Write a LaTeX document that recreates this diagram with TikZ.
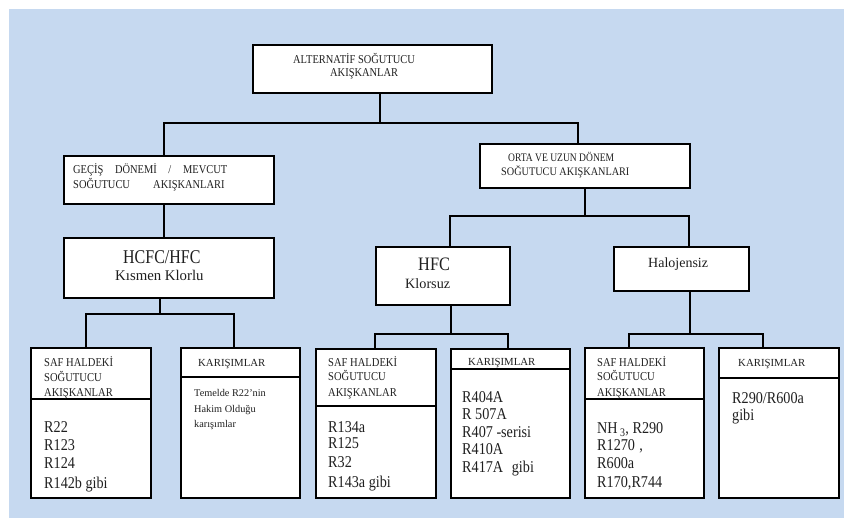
\documentclass[tikz,border=0pt]{standalone}
\usepackage{fontspec}
\usepackage{graphicx}
\setmainfont{Liberation Serif}
\definecolor{bg}{RGB}{198,217,240}
\tikzset{
  box/.style={draw=black, fill=white, line width=1.6pt, inner sep=0pt, anchor=north west},
  conn/.style={draw=black, line width=1.6pt},
  txt/.style={anchor=base west, inner sep=0pt, text=black!88},
}
\newcommand{\bx}[5]{\node[box, minimum width=#4pt, minimum height=#5pt] (#1) at (#2,#3) {};}
% optional arg: horizontal squeeze
\newcommand{\tx}[6][0.86]{\node[txt, font=\fontsize{#5}{#5}\selectfont] (#2) at (#3,{#4+0.33*#5}) {\scalebox{#1}[1]{#6}};}
\begin{document}
\begin{tikzpicture}[x=1pt,y=-1pt]
\useasboundingbox (0,0) rectangle (844,518);
\fill[bg] (9,9) rectangle (844,518);

% boxes
\bx{root}{252}{44}{239}{48}
\bx{gec}{63}{155}{210}{48}
\bx{orta}{479}{143}{210}{44}
\bx{hcfc}{63}{237}{210}{60}
\bx{hfc}{375}{246}{134}{58}
\bx{halo}{613}{246}{135}{44}
\bx{saf1}{30}{347}{120}{150}
\bx{kar1}{180}{347}{119}{150}
\bx{saf2}{315}{348}{120}{149}
\bx{kar2}{450}{348}{119}{149}
\bx{saf3}{584}{347}{119}{150}
\bx{kar3}{718}{347}{120}{150}

% dividers
\draw[conn] ([yshift=-52pt]saf1.north west) -- ([yshift=-52pt]saf1.north east);
\draw[conn] ([yshift=-30pt]kar1.north west) -- ([yshift=-30pt]kar1.north east);
\draw[conn] ([yshift=-58pt]saf2.north west) -- ([yshift=-58pt]saf2.north east);
\draw[conn] ([yshift=-21pt]kar2.north west) -- ([yshift=-21pt]kar2.north east);
\draw[conn] ([yshift=-52pt]saf3.north west) -- ([yshift=-52pt]saf3.north east);
\draw[conn] ([yshift=-31pt]kar3.north west) -- ([yshift=-31pt]kar3.north east);

% connector coordinates
\coordinate (p0) at (380,0); \coordinate (p1) at (164,0); \coordinate (p2) at (578,0); \coordinate (yb1) at (0,123);
\coordinate (q0) at (160,0); \coordinate (q1) at (86,0);  \coordinate (q2) at (234,0); \coordinate (yb2) at (0,314);
\coordinate (r0) at (585,0); \coordinate (r1) at (450,0); \coordinate (r2) at (689,0); \coordinate (yb3) at (0,216);
\coordinate (s0) at (451,0); \coordinate (s1) at (375,0); \coordinate (s2) at (508,0); \coordinate (yb4) at (0,334);
\coordinate (u0) at (690,0); \coordinate (u1) at (629,0); \coordinate (u2) at (763,0);

\draw[conn] (root.south -| p0) -- (p0 |- yb1);
\draw[conn] (gec.north -| p1) |- (p2 |- yb1) -- (orta.north -| p2);
\draw[conn] (gec.south -| p1) -- (hcfc.north -| p1);

\draw[conn] (hcfc.south -| q0) -- (q0 |- yb2);
\draw[conn] (saf1.north -| q1) |- (q2 |- yb2) -- (kar1.north -| q2);

\draw[conn] (orta.south -| r0) -- (r0 |- yb3);
\draw[conn] (hfc.north -| r1) |- (r2 |- yb3) -- (halo.north -| r2);

\draw[conn] (hfc.south -| s0) -- (s0 |- yb4);
\draw[conn] (saf2.north -| s1) |- (s2 |- yb4) -- (kar2.north -| s2);

\draw[conn] (halo.south -| u0) -- (u0 |- yb4);
\draw[conn] (saf3.north -| u1) |- (u2 |- yb4) -- (kar3.north -| u2);

% texts
\tx[0.87]{t1}{293}{60}{12}{ALTERNATİF SOĞUTUCU}
\tx[0.87]{t2}{330}{73}{12}{AKIŞKANLAR}

\tx[0.87]{t3}{73}{170}{12}{\makebox[177pt][s]{GEÇİŞ DÖNEMİ / MEVCUT}}
\tx[0.87]{t4}{73}{185}{12}{\makebox[174pt][s]{SOĞUTUCU AKIŞKANLARI}}

\tx[0.83]{t5}{508}{158}{11.5}{ORTA VE UZUN DÖNEM}
\tx[0.89]{t6}{501}{172}{11.5}{SOĞUTUCU AKIŞKANLARI}

\tx[0.82]{t7}{123}{257}{19.5}{HCFC/HFC}
\tx[1]{t8}{115}{276}{14.8}{Kısmen Klorlu}

\tx[0.86]{t9}{418}{264}{19}{HFC}
\tx[1]{t10}{405}{284}{14.2}{Klorsuz}

\tx[1]{t11}{648}{263}{14}{Halojensiz}

% bottom left SAF
\tx[0.88]{t12}{44}{363}{12}{SAF HALDEKİ}
\tx[0.88]{t13}{44}{378}{12}{SOĞUTUCU}
\tx[0.88]{t14}{44}{393}{12}{AKIŞKANLAR}
\tx{t15}{44}{427}{16.5}{R22}
\tx{t16}{44}{445}{16.5}{R123}
\tx{t17}{44}{463}{16.5}{R124}
\tx{t18}{44}{483}{16.5}{R142b gibi}

% bottom left KAR
\tx[1]{t19}{198}{363}{10.8}{KARIŞIMLAR}
\tx[1]{t20}{194}{393}{10.3}{Temelde R22'nin}
\tx[1]{t21}{194}{409}{10.3}{Hakim Olduğu}
\tx[1]{t22}{194}{424}{10.3}{karışımlar}

% middle SAF
\tx[0.88]{t23}{328}{363}{12}{SAF HALDEKİ}
\tx[0.88]{t24}{328}{377}{12}{SOĞUTUCU}
\tx[0.88]{t25}{328}{393}{12}{AKIŞKANLAR}
\tx{t26}{328}{427}{16.5}{R134a}
\tx{t27}{328}{443}{16.5}{R125}
\tx{t28}{328}{462}{16.5}{R32}
\tx{t29}{328}{482}{16.5}{R143a gibi}

% middle KAR
\tx[1]{t30}{468}{362}{10.8}{KARIŞIMLAR}
\tx{t31}{462}{397}{16.5}{R404A}
\tx{t32}{462}{414}{16.5}{R 507A}
\tx{t33}{462}{432}{16.5}{R407 -serisi}
\tx{t34}{462}{449}{16.5}{R410A}
\tx{t35}{462}{467}{16.5}{R417A\hspace{6pt} gibi}

% right SAF
\tx[0.88]{t36}{597}{363}{12}{SAF HALDEKİ}
\tx[0.88]{t37}{597}{377}{12}{SOĞUTUCU}
\tx[0.88]{t38}{597}{393}{12}{AKIŞKANLAR}
\tx{t39}{597}{428}{16.5}{NH\,\textsubscript{3}, R290}
\tx{t40}{597}{445}{16.5}{R1270\hspace{5pt},}
\tx{t41}{597}{463}{16.5}{R600a}
\tx{t42}{597}{482}{16.5}{R170,R744}

% right KAR
\tx[1]{t43}{738}{363}{10.8}{KARIŞIMLAR}
\tx{t44}{732}{398}{16.5}{R290/R600a}
\tx{t45}{732}{415}{16.5}{gibi}
\end{tikzpicture}
\end{document}
